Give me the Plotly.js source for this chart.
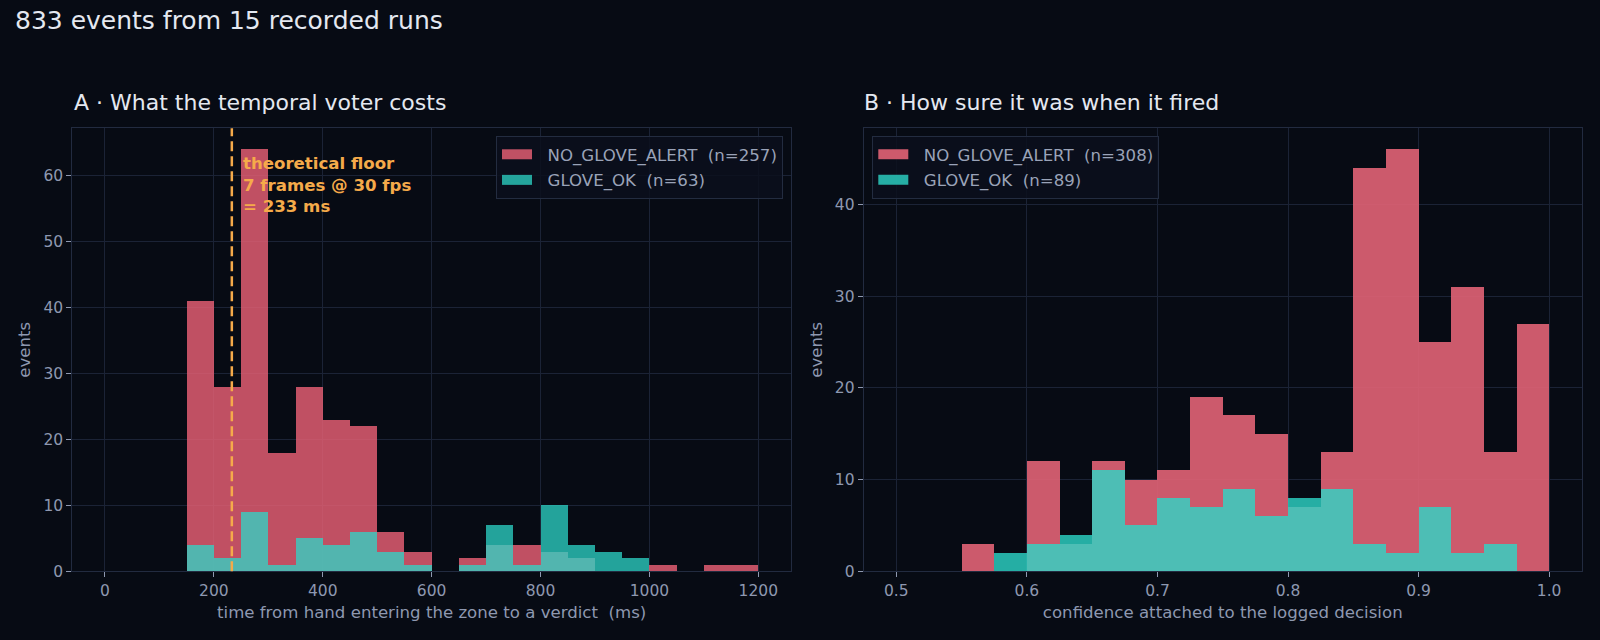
<!DOCTYPE html>
<html>
<head>
<meta charset="utf-8">
<script src="https://cdn.plot.ly/plotly-3.0.1.min.js"></script>
<style>
  html, body { margin: 0; padding: 0; background: #070b14; }
</style>
</head>
<body>
<div id="chart-area" style="width:1600px;height:640px;"></div>
<script>
// panel A: latency histogram, 50 ms bins (left edge of each bin)
const latencyBinStart = [150, 200, 250, 300, 350, 400, 450, 500, 550, 600, 650,
  700, 750, 800, 850, 900, 950, 1000, 1050, 1100, 1150];
const latencyBinWidth = 50;
const latencyAlert = [41, 28, 64, 18, 28, 23, 22, 6, 3, 0, 2, 4, 4, 3, 2, 0, 0, 1, 0, 1, 1];
const latencyOk = [4, 2, 9, 1, 5, 4, 6, 3, 1, 0, 1, 7, 1, 10, 4, 3, 2, 0, 0, 0, 0];
const floorMs = 233;

// panel B: confidence histogram, 0.025 bins
const confBinStart = [0.55, 0.575, 0.6, 0.625, 0.65, 0.675, 0.7, 0.725, 0.75,
  0.775, 0.8, 0.825, 0.85, 0.875, 0.9, 0.925, 0.95, 0.975];
const confBinWidth = 0.025;
const confAlert = [3, 0, 12, 3, 12, 10, 11, 19, 17, 15, 7, 13, 44, 46, 25, 31, 13, 27];
const confOk = [0, 2, 3, 4, 11, 5, 8, 7, 9, 6, 8, 9, 3, 2, 7, 2, 3, 0];

const latencyNames = ["NO_GLOVE_ALERT\u00a0 (n=257)", "GLOVE_OK\u00a0 (n=63)"];
const confNames = ["NO_GLOVE_ALERT\u00a0 (n=308)", "GLOVE_OK\u00a0 (n=89)"];

const BG = "#070b14";
const GRID = "#1b2336";
const SPINE = "#222b40";
const TICK_TEXT = "#8e98b0";
const ORANGE = "#f5aa4a";
const FONT = "DejaVu Sans";

const colors = {
  alertA: "rgba(230,95,115,0.83)",
  okA: "rgba(45,215,200,0.75)",
  alertB: "rgba(226,99,117,0.9)",
  okB: "rgba(45,215,200,0.8)",
};

function histBars(xs, ys, width, color, xaxis, yaxis) {
  return {
    type: "bar",
    x: xs,
    y: ys,
    width: width,
    offset: 0,
    marker: { color: color, line: { width: 0 } },
    xaxis: xaxis,
    yaxis: yaxis,
    showlegend: false,
    hoverinfo: "x+y",
  };
}

// legend-only entries: a thick line gives the wide matplotlib-style patch
function legendEntry(name, color, legend) {
  return {
    type: "scatter",
    mode: "lines",
    x: [null],
    y: [null],
    name: "\u00a0\u00a0" + name, // extra gap between patch and text
    legendgroup: name,
    line: { color: color, width: 12 },
    xaxis: legend == "legend" ? "x" : "x2",
    yaxis: legend == "legend" ? "y" : "y2",
    legend: legend,
    hoverinfo: "skip",
  };
}

let data = [
  histBars(latencyBinStart, latencyAlert, latencyBinWidth, colors.alertA, "x", "y"),
  histBars(latencyBinStart, latencyOk, latencyBinWidth, colors.okA, "x", "y"),
  histBars(confBinStart, confAlert, confBinWidth, colors.alertB, "x2", "y2"),
  histBars(confBinStart, confOk, confBinWidth, colors.okB, "x2", "y2"),
  legendEntry(latencyNames[0], colors.alertA, "legend"),
  legendEntry(latencyNames[1], colors.okA, "legend"),
  legendEntry(confNames[0], colors.alertB, "legend2"),
  legendEntry(confNames[1], colors.okB, "legend2"),
];

function axisStyle(extra) {
  return Object.assign({
    showgrid: true,
    gridcolor: GRID,
    gridwidth: 1,
    zeroline: false,
    showline: true,
    linecolor: SPINE,
    linewidth: 1,
    mirror: true,
    ticks: "outside",
    ticklen: 5,
    tickwidth: 1,
    tickcolor: TICK_TEXT,
    tickfont: { family: FONT, size: 15.5, color: TICK_TEXT },
  }, extra);
}

const axisTitleFont = { family: FONT, size: 16.6, color: TICK_TEXT };
const yTop = 1 - 128.3 / 640;
const yBottom = 1 - 571.3 / 640;

const legendStyle = {
  bgcolor: "rgba(10,15,28,0.85)",
  bordercolor: "#232c40",
  borderwidth: 1,
  font: { family: FONT, size: 16.6, color: "#9aa3b8" },
  yanchor: "top",
  y: 1 - 136 / 640,
  tracegroupgap: 1,
  itemwidth: 30,
};

let layout = {
  width: 1600,
  height: 640,
  margin: { l: 0, r: 0, t: 0, b: 0 },
  paper_bgcolor: BG,
  plot_bgcolor: BG,
  barmode: "overlay",
  bargap: 0,
  font: { family: FONT, color: TICK_TEXT },
  xaxis: axisStyle({
    domain: [72.3 / 1600, 791 / 1600],
    range: [-60, 1260],
    tickvals: [0, 200, 400, 600, 800, 1000, 1200],
    anchor: "y",
    title: {
      text: "time from hand entering the zone to a verdict\u00a0 (ms)",
      font: axisTitleFont,
      standoff: 7,
    },
  }),
  yaxis: axisStyle({
    domain: [yBottom, yTop],
    range: [0, 67.2],
    tickvals: [0, 10, 20, 30, 40, 50, 60],
    anchor: "x",
    title: { text: "events", font: axisTitleFont, standoff: 8 },
  }),
  xaxis2: axisStyle({
    domain: [863.7 / 1600, 1581.8 / 1600],
    range: [0.475, 1.025],
    tickvals: [0.5, 0.6, 0.7, 0.8, 0.9, 1.0],
    tickformat: ".1f",
    anchor: "y2",
    title: {
      text: "confidence attached to the logged decision",
      font: axisTitleFont,
      standoff: 7,
    },
  }),
  yaxis2: axisStyle({
    domain: [yBottom, yTop],
    range: [0, 48.3],
    tickvals: [0, 10, 20, 30, 40],
    anchor: "x2",
    title: { text: "events", font: axisTitleFont, standoff: 8 },
  }),
  legend: Object.assign({}, legendStyle, { x: 783 / 1600, xanchor: "right" }),
  legend2: Object.assign({}, legendStyle, { x: 872.3 / 1600, xanchor: "left" }),
  shapes: [
    {
      // theoretical floor marker
      type: "line",
      xref: "x",
      yref: "y domain",
      x0: floorMs,
      x1: floorMs,
      y0: 0,
      y1: 1,
      line: { color: ORANGE, width: 2.5, dash: "10px,5px" },
    },
  ],
  annotations: [
    {
      text: "833 events from 15 recorded runs",
      xref: "paper", yref: "paper",
      x: 13 / 1600, y: 1 - 20 / 640,
      xanchor: "left", yanchor: "middle",
      showarrow: false,
      font: { family: FONT, size: 25, color: "#e4e8f0" },
    },
    {
      text: "A · What the temporal voter costs",
      xref: "paper", yref: "paper",
      x: 71.5 / 1600, y: 1 - 102 / 640,
      xanchor: "left", yanchor: "middle",
      showarrow: false,
      font: { family: FONT, size: 22, color: "#e4e8f0" },
    },
    {
      text: "B · How sure it was when it fired",
      xref: "paper", yref: "paper",
      x: 862 / 1600, y: 1 - 102 / 640,
      xanchor: "left", yanchor: "middle",
      showarrow: false,
      font: { family: FONT, size: 22, color: "#e4e8f0" },
    },
    {
      text: "<b>theoretical floor<br>7 frames @ 30 fps<br>= 233 ms</b>",
      xref: "x", yref: "y",
      x: 250, y: 63.6,
      xanchor: "left", yanchor: "top",
      align: "left",
      showarrow: false,
      font: { family: FONT, size: 16.6, color: ORANGE },
    },
  ],
};

Plotly.newPlot("chart-area", data, layout, { displayModeBar: false, staticPlot: true });
</script>
</body>
</html>
